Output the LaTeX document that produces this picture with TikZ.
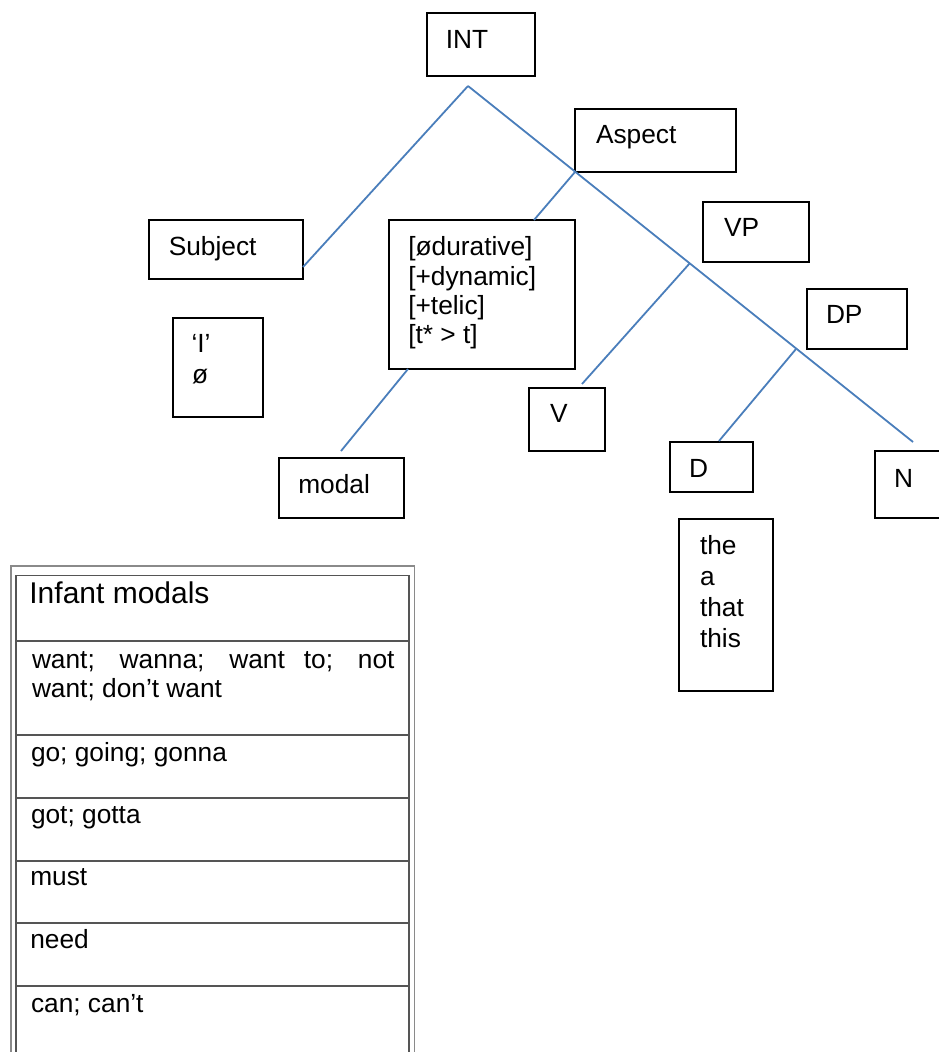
\documentclass[tikz,border=0pt]{standalone}
\usepackage{fontspec}
\setmainfont{Liberation Sans}
\definecolor{lineblue}{HTML}{4A7EBB}
\definecolor{ruleouter}{HTML}{8A8A8A}
\definecolor{ruleinner}{HTML}{555555}
\begin{document}
\begin{tikzpicture}[x=1pt,y=-1pt,
  box/.style={draw=black, line width=1.2pt, rectangle, inner sep=0pt, outer sep=0pt},
  txt/.style={inner sep=0pt, outer sep=0pt, anchor=base west, font=\fontsize{26.3}{30}\selectfont},
  bigtxt/.style={txt, font=\fontsize{30}{34}\selectfont},
  branch/.style={draw=lineblue, line width=1.8pt},
  outerrule/.style={draw=ruleouter, line width=1.3pt},
  innerrule/.style={draw=ruleinner, line width=1.3pt}
]
\clip (0,0) rectangle (939,1052);
\fill[white] (0,0) rectangle (939,1052);

% ---------- boxes ----------
\node[box, minimum width=108, minimum height=63] (int) at (481,44.5) {};
\node[box, minimum width=154, minimum height=59] (subject) at (226,249.5) {};
\node[box, minimum width=90, minimum height=99] (ibox) at (218,367.5) {};
\node[box, minimum width=186, minimum height=149] (feat) at (482,294.5) {};
\node[box, minimum width=161, minimum height=63] (aspect) at (655.5,140.5) {};
\node[box, minimum width=106, minimum height=60] (vp) at (756,232) {};
\node[box, minimum width=100, minimum height=60] (dp) at (857,319) {};
\node[box, minimum width=76, minimum height=63] (v) at (567,419.5) {};
\node[box, minimum width=125, minimum height=60] (modal) at (341.5,488) {};
\node[box, minimum width=83, minimum height=50] (d) at (711.5,467) {};
\node[box, minimum width=80, minimum height=67] (n) at (915,484.5) {};
\node[box, minimum width=94, minimum height=172] (det) at (726,605) {};

% ---------- texts ----------
\node[txt] (int-t) at (445.8,48) {INT};
\node[txt] (subject-t) at (168.8,255) {Subject};
\node[txt] (ibox-t1) at (191.5,352) {‘I’};
\node[txt] (ibox-t2) at (192,383) {ø};
\node[txt] (feat-t1) at (408.3,255) {[ødurative]};
\node[txt] (feat-t2) at (408.3,285) {[+dynamic]};
\node[txt] (feat-t3) at (408.3,314) {[+telic]};
\node[txt] (feat-t4) at (408.3,343) {[t* > t]};
\node[txt] (aspect-t) at (596,143) {Aspect};
\node[txt] (vp-t) at (724,236) {VP};
\node[txt] (dp-t) at (826,323) {DP};
\node[txt] (v-t) at (550,422) {V};
\node[txt] (d-t) at (689,477) {D};
\node[txt] (n-t) at (894,487) {N};
\node[txt] (modal-t) at (298.3,493) {modal};
\node[txt] (det-t1) at (700,554) {the};
\node[txt] (det-t2) at (700,585) {a};
\node[txt] (det-t3) at (700,616) {that};
\node[txt] (det-t4) at (700,647) {this};

% ---------- connectors ----------
\coordinate (apex) at (468,86);
\coordinate (spineend) at (913,442);
\coordinate (subjend) at (303,267);
\coordinate (feattop) at (534,220);
\coordinate (featbot) at (408,369);
\coordinate (modalend) at (341,451);
\coordinate (vpj) at (690,263);
\coordinate (vend) at (582,384);
\coordinate (dpj) at (796,349);
\coordinate (dend) at (719,441);

\draw[branch] (apex) -- (spineend);
\draw[branch] (apex) -- (subjend);
\draw[branch] (aspect.south west) -- (feattop);
\draw[branch] (featbot) -- (modalend);
\draw[branch] (vpj) -- (vend);
\draw[branch] (dpj) -- (dend);

% ---------- table ----------
\draw[outerrule] (11,1060) -- (11,566) -- (414.5,566) -- (414.5,1060);
\draw[innerrule] (16,1060) -- (16,575.7) -- (409,575.7) -- (409,1060);
\foreach \yy in {641,735,798,861,923,986}
  \draw[innerrule] (16,\yy) -- (409,\yy);

\node[bigtxt] (tab-head) at (29.4,603) {Infant modals};
\node[txt] (tab-r1a) at (32,668) {\makebox[362.5pt][s]{want; wanna; want to; not}};
\node[txt] (tab-r1b) at (32,697) {want; don’t want};
\node[txt] (tab-r2) at (31,761) {go; going; gonna};
\node[txt] (tab-r3) at (31,823) {got; gotta};
\node[txt] (tab-r4) at (30.3,885) {must};
\node[txt] (tab-r5) at (30.3,948) {need};
\node[txt] (tab-r6) at (31,1012) {can; can’t};
\end{tikzpicture}
\end{document}
